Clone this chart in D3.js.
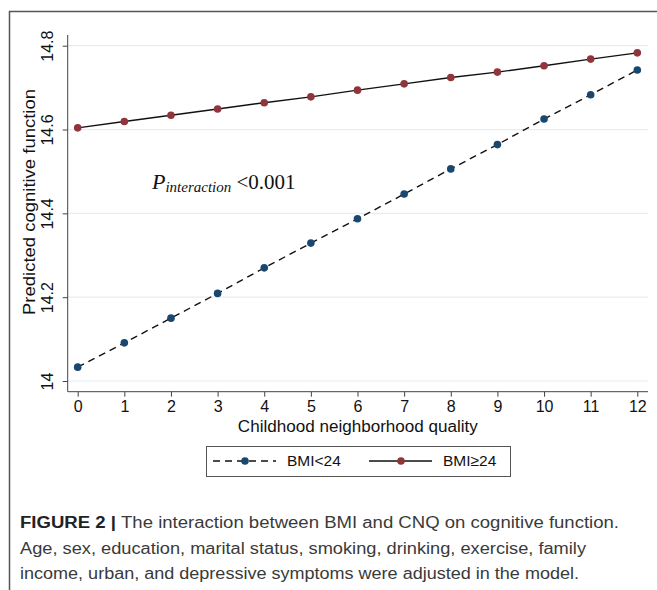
<!DOCTYPE html>
<html><head><meta charset="utf-8">
<script src="https://cdn.jsdelivr.net/npm/d3@7"></script>
<style>body{margin:0;background:#fff}</style>
</head><body>
<svg id="c" width="657" height="590"></svg>
<script>
const cnq = [0,1,2,3,4,5,6,7,8,9,10,11,12];
const bmiLow = [14.033,14.091,14.150,14.209,14.270,14.329,14.387,14.446,14.506,14.564,14.625,14.683,14.742];
const bmiHigh = [14.604,14.619,14.634,14.649,14.664,14.678,14.694,14.709,14.724,14.737,14.752,14.768,14.783];
const yTicks = [14,14.2,14.4,14.6,14.8];
const yTickLabels = ["14","14.2","14.4","14.6","14.8"];
const seriesNames = ["BMI<24","BMI\u226524"];
const captionLines = [
  ["FIGURE 2 | ", "The interaction between BMI and CNQ on cognitive function."],
  ["", "Age, sex, education, marital status, smoking, drinking, exercise, family"],
  ["", "income, urban, and depressive symptoms were adjusted in the model."]
];

const svg = d3.select("#c");
const font = "'Liberation Sans', Arial, sans-serif";
const axisCol = "#444";

// outer frame
svg.append("path").attr("d","M9.5,590 V11.5 H657").attr("fill","none").attr("stroke","#555").attr("stroke-width",1.5);

const x = d3.scaleLinear().domain([0,12]).range([77.7,637.3]);
const y = d3.scaleLinear().domain([14,14.8]).range([381,45.7]);
const axL = 67.7, axR = 648, axT = 35, axB = 391.7;

// gridlines
svg.append("g").selectAll("line").data(yTicks).join("line")
  .attr("x1",axL).attr("x2",axR).attr("y1",d=>y(d)).attr("y2",d=>y(d))
  .attr("stroke","#e6eef1").attr("stroke-width",1.2);

// y axis
const ya = svg.append("g").attr("transform",`translate(${axL},0)`)
  .call(d3.axisLeft(y).tickValues(yTicks).tickSize(5).tickFormat((d,i)=>yTickLabels[i]));
ya.select(".domain").remove();
ya.append("line").attr("x1",0).attr("x2",0).attr("y1",axT).attr("y2",axB).attr("stroke",axisCol);
ya.selectAll(".tick line").attr("stroke",axisCol);
ya.selectAll(".tick text").attr("fill","#111").style("font-family",font).style("font-size","16px")
  .attr("transform","rotate(-90)").attr("x",0).attr("y",-20.5).attr("dy","0.35em").attr("text-anchor","middle");

// x axis
const xa = svg.append("g").attr("transform",`translate(0,${axB})`)
  .call(d3.axisBottom(x).tickValues(cnq).tickSize(5).tickFormat(d3.format("d")));
xa.select(".domain").remove();
xa.append("line").attr("x1",axL).attr("x2",axR).attr("y1",0).attr("y2",0).attr("stroke",axisCol);
xa.selectAll(".tick line").attr("stroke",axisCol);
xa.selectAll(".tick text").attr("fill","#111").style("font-family",font).style("font-size","16px").attr("y",9);

// axis titles
svg.append("text").attr("x",(axL+axR)/2).attr("y",432).attr("text-anchor","middle")
  .attr("textLength",240).attr("lengthAdjust","spacingAndGlyphs")
  .style("font-family",font).style("font-size","16px").attr("fill","#111").text("Childhood neighborhood quality");
svg.append("text").attr("transform","translate(35,202) rotate(-90)").attr("text-anchor","middle")
  .attr("textLength",226).attr("lengthAdjust","spacingAndGlyphs")
  .style("font-family",font).style("font-size","16px").attr("fill","#111").text("Predicted cognitive function");

// lines
const line = d3.line().x((d,i)=>x(cnq[i])).y(d=>y(d));
svg.append("path").datum(bmiLow).attr("d",line).attr("fill","none").attr("stroke","#111").attr("stroke-width",1.4).attr("stroke-dasharray","7,5");
svg.append("path").datum(bmiHigh).attr("d",line).attr("fill","none").attr("stroke","#111").attr("stroke-width",1.4);
svg.append("g").selectAll("circle").data(bmiLow).join("circle")
  .attr("cx",(d,i)=>x(cnq[i])).attr("cy",d=>y(d)).attr("r",3.8).attr("fill","#1a476f");
svg.append("g").selectAll("circle").data(bmiHigh).join("circle")
  .attr("cx",(d,i)=>x(cnq[i])).attr("cy",d=>y(d)).attr("r",3.8).attr("fill","#90353b");

// annotation
const ann = svg.append("text").attr("x",152).attr("y",189).style("font-family","'Liberation Serif','Times New Roman',serif").attr("fill","#111");
ann.append("tspan").style("font-style","italic").style("font-size","22px").text("P");
ann.append("tspan").style("font-style","italic").style("font-size","15px").attr("dy",3).text("interaction");
ann.append("tspan").style("font-size","21px").attr("dy",-3).text(" <0.001");

// legend
const lg = svg.append("g");
lg.append("rect").attr("x",206.5).attr("y",446.5).attr("width",304).attr("height",30).attr("fill","#fff").attr("stroke","#555").attr("stroke-width",1);
lg.append("line").attr("x1",213).attr("x2",276).attr("y1",461).attr("y2",461).attr("stroke","#111").attr("stroke-width",1.4).attr("stroke-dasharray","7,5");
lg.append("circle").attr("cx",245).attr("cy",461).attr("r",3.8).attr("fill","#1a476f");
lg.append("text").attr("x",287).attr("y",461).attr("dy","0.35em").style("font-family",font).style("font-size","15.5px").attr("fill","#111").text(seriesNames[0]);
lg.append("line").attr("x1",369).attr("x2",432).attr("y1",461).attr("y2",461).attr("stroke","#111").attr("stroke-width",1.4);
lg.append("circle").attr("cx",401).attr("cy",461).attr("r",3.8).attr("fill","#90353b");
lg.append("text").attr("x",443).attr("y",461).attr("dy","0.35em").style("font-family",font).style("font-size","15.5px").attr("fill","#111").text(seriesNames[1]);

// caption
const capY = [528,554,579];
const capW = [599,566,559];
captionLines.forEach((l,i)=>{
  const t = svg.append("text").attr("x",20).attr("y",capY[i]).style("font-family",font).style("font-size","16px").attr("fill","#3a3a3a")
    .attr("textLength",capW[i]).attr("lengthAdjust","spacingAndGlyphs");
  if(l[0]) t.append("tspan").style("font-weight","bold").attr("fill","#222").text(l[0]);
  t.append("tspan").text(l[1]);
});
</script>
</body></html>
